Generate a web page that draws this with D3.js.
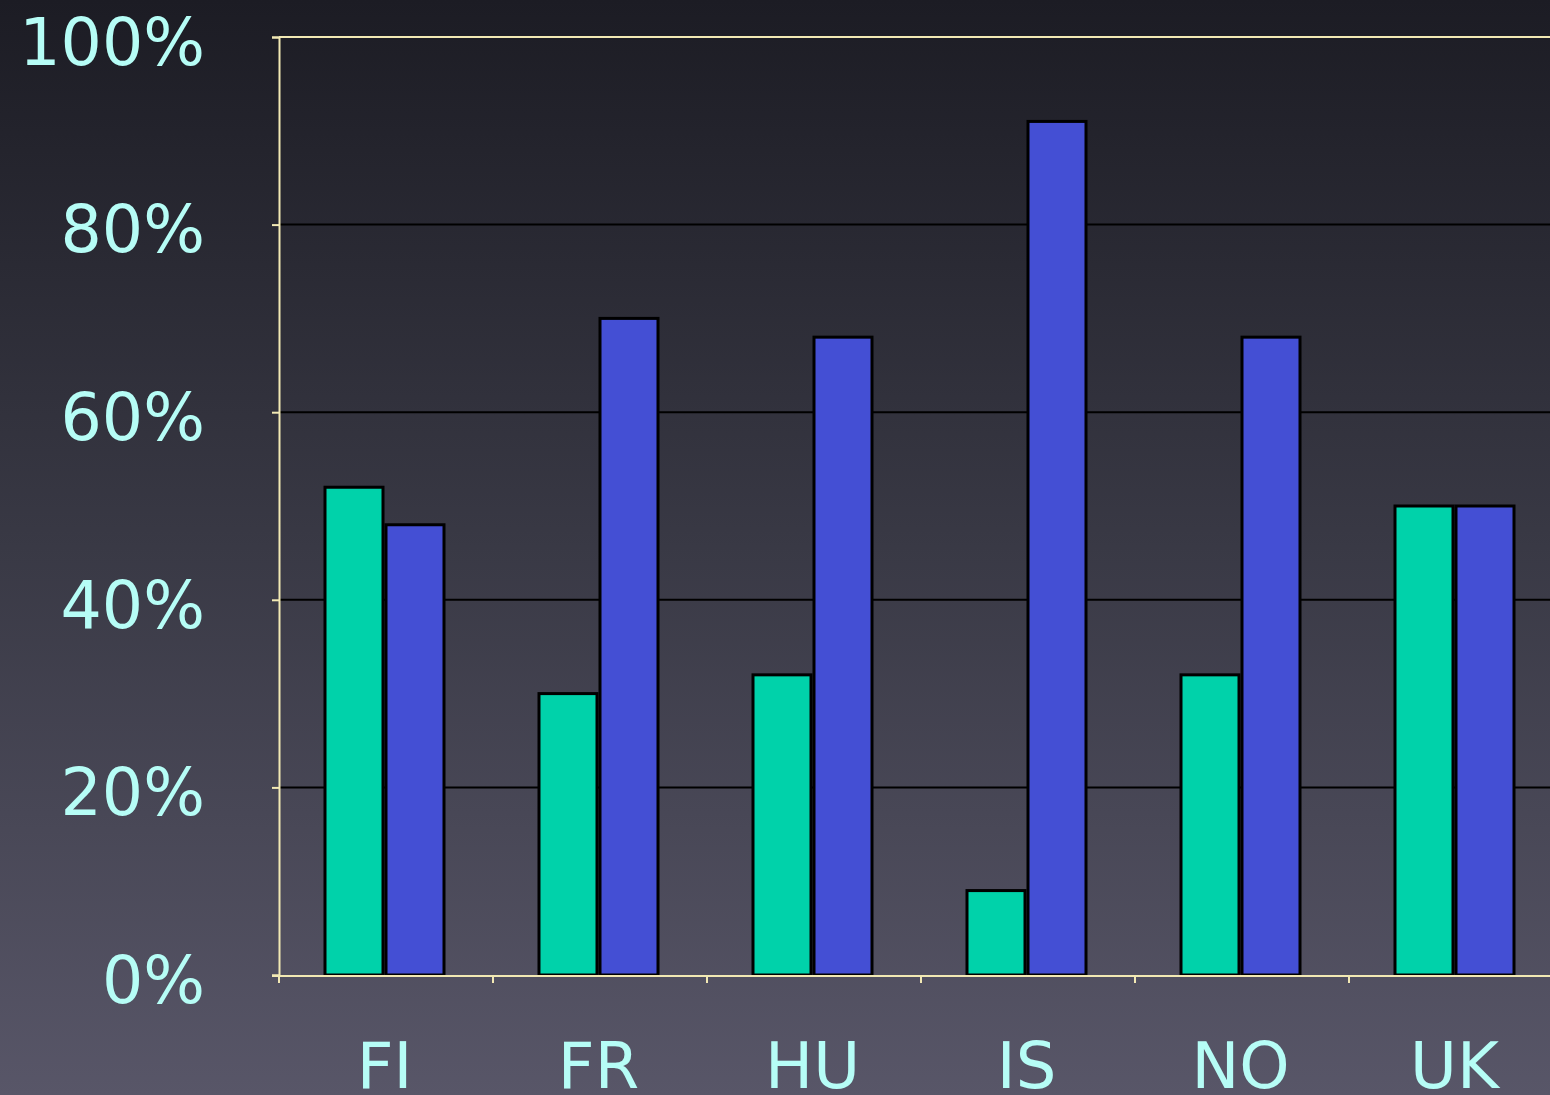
<!DOCTYPE html>
<html>
<head>
<meta charset="utf-8">
<script src="https://d3js.org/d3.v7.min.js"></script>
<style>
  body { margin: 0; background: #2a2a33; }
  svg { display: block; }
</style>
</head>
<body>
<svg></svg>
<script>
// data
var countries = ["FI", "FR", "HU", "IS", "NO", "UK"];
var seriesNames = ["green", "blue"];
var greenValues = [52, 30, 32, 9, 32, 50];
var blueValues = [48, 70, 68, 91, 68, 50];
var yTicks = [0, 20, 40, 60, 80, 100];

var screen = { width: 1550, height: 1095 };

var svg = d3.select("svg")
            .attr("width", screen.width)
            .attr("height", screen.height);

// background gradient
var defs = svg.append("defs");
var grad = defs.append("linearGradient")
               .attr("id", "bg")
               .attr("x1", 0).attr("y1", 0)
               .attr("x2", 0).attr("y2", 1);
grad.append("stop").attr("offset", "0%").attr("stop-color", "#1c1c24");
grad.append("stop").attr("offset", "50%").attr("stop-color", "#393945");
grad.append("stop").attr("offset", "100%").attr("stop-color", "#585668");

svg.append("rect")
   .attr("width", screen.width)
   .attr("height", screen.height)
   .attr("fill", "url(#bg)");

var margins = { top: 37, left: 279, bottom: 119 };
var plotRight = 1563;
var height = screen.height - margins.top - margins.bottom;

var xScale = d3.scaleBand()
               .domain(countries)
               .range([margins.left, plotRight])
               .padding(0);

var x1 = d3.scaleBand()
           .domain(seriesNames)
           .range([0, 122])
           .padding(0);

var yScale = d3.scaleLinear()
               .domain([0, 100])
               .range([margins.top + height - 1, margins.top]);

var axisColor = "#f2e9b4";
var textColor = "#b6fdf6";
var colors = { green: "#00d2aa", blue: "#444fd4" };
var fontFamily = "Verdana, 'DejaVu Sans', sans-serif";

// gridlines
svg.append("g")
   .selectAll("line")
   .data(yTicks.filter(function(d) { return d > 0 && d < 100; }))
   .enter()
   .append("line")
   .attr("x1", margins.left)
   .attr("x2", screen.width)
   .attr("y1", function(d) { return yScale(d); })
   .attr("y2", function(d) { return yScale(d); })
   .attr("stroke", "#000")
   .attr("stroke-width", 2);

// top frame line
svg.append("line")
   .attr("x1", margins.left)
   .attr("x2", screen.width)
   .attr("y1", yScale(100))
   .attr("y2", yScale(100))
   .attr("stroke", axisColor)
   .attr("stroke-width", 2);

// bars
var rows = countries.map(function(c, i) {
  return { country: c, values: [
    { key: "green", value: greenValues[i] },
    { key: "blue", value: blueValues[i] }
  ] };
});

var groups = svg.append("g")
   .selectAll("g")
   .data(rows)
   .enter()
   .append("g")
   .attr("transform", function(d) {
     return "translate(" + (xScale(d.country) + xScale.bandwidth() / 2 - 62.5) + ",0)";
   });

groups.selectAll("rect")
   .data(function(d) { return d.values; })
   .enter()
   .append("rect")
   .attr("x", function(d) { return x1(d.key) + 1.5; })
   .attr("width", x1.bandwidth() - 3)
   .attr("y", function(d) { return yScale(d.value); })
   .attr("height", function(d) { return yScale(0) - yScale(d.value); })
   .attr("fill", function(d) { return colors[d.key]; })
   .attr("stroke", "#000")
   .attr("stroke-width", 3);

// x axis line and category boundary ticks
var baseY = margins.top + height;

svg.append("line")
   .attr("x1", margins.left - 7)
   .attr("x2", screen.width)
   .attr("y1", baseY)
   .attr("y2", baseY)
   .attr("stroke", axisColor)
   .attr("stroke-width", 2);

svg.append("g")
   .selectAll("line")
   .data(countries)
   .enter()
   .append("line")
   .attr("x1", function(d) { return xScale(d); })
   .attr("x2", function(d) { return xScale(d); })
   .attr("y1", baseY)
   .attr("y2", baseY + 7)
   .attr("stroke", axisColor)
   .attr("stroke-width", 2);

var xAxis = d3.axisBottom(xScale)
              .tickSize(0)
              .tickPadding(67);

var xg = svg.append("g")
   .attr("transform", "translate(-1.5," + baseY + ")")
   .call(xAxis);
xg.select(".domain").remove();
xg.selectAll("text")
  .attr("fill", textColor)
  .style("font-family", fontFamily)
  .style("font-size", "64px")
  .attr("dy", "0.71em");

var yAxis = d3.axisLeft(yScale)
              .tickValues(yTicks)
              .tickSize(7)
              .tickPadding(67)
              .tickFormat(function(d) { return d + "%"; });

var yg = svg.append("g")
   .attr("transform", "translate(" + margins.left + ",0)")
   .call(yAxis);
yg.select(".domain")
  .attr("stroke", axisColor)
  .attr("stroke-width", 2);
yg.selectAll(".tick line")
  .attr("stroke", axisColor)
  .attr("stroke-width", 2);
yg.selectAll("text")
  .attr("fill", textColor)
  .style("font-family", fontFamily)
  .style("font-size", "65px")
  .attr("dy", "0.42em");
</script>
</body>
</html>
